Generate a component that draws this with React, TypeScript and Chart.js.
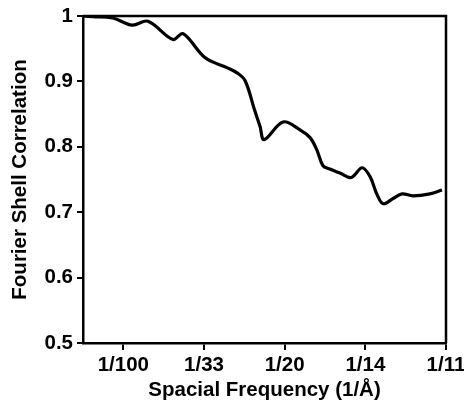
import React, { useEffect, useRef } from "react";
import { Chart, registerables } from "chart.js";

Chart.register(...registerables);

// Spatial frequency (1/Å) and Fourier shell correlation values
const frequencies = [
  0, 0.0025, 0.0074, 0.0122, 0.0161, 0.0223, 0.0248, 0.0303, 0.0357, 0.0382,
  0.0402, 0.0426, 0.0439, 0.0449, 0.0496, 0.0538, 0.0563, 0.058, 0.0595,
  0.0612, 0.0637, 0.0665, 0.0692, 0.0712, 0.0729, 0.0744, 0.0769, 0.0791,
  0.0818, 0.086, 0.089,
];
const fscValues = [
  1.0, 0.999, 0.997, 0.986, 0.992, 0.964, 0.973, 0.936, 0.921, 0.913, 0.901,
  0.855, 0.831, 0.811, 0.838, 0.826, 0.814, 0.795, 0.771, 0.766, 0.76, 0.753,
  0.768, 0.754, 0.727, 0.713, 0.721, 0.728, 0.725, 0.728, 0.734,
];
const xTickValues = [0.01, 0.03, 0.05, 0.07, 0.09];
const xTickLabels = ["1/100", "1/33", "1/20", "1/14", "1/11"];

const FONT = "'Liberation Sans', Arial, Helvetica, sans-serif";

const framePlugin = {
  id: "frame",
  afterDraw(chart: any) {
    const { ctx, chartArea } = chart;
    ctx.save();
    ctx.strokeStyle = "#000";
    ctx.lineWidth = 2.5;
    ctx.beginPath();
    ctx.moveTo(chartArea.left, chartArea.top);
    ctx.lineTo(chartArea.right, chartArea.top);
    ctx.lineTo(chartArea.right, chartArea.bottom);
    ctx.stroke();
    ctx.restore();
  },
};

export default function App() {
  const canvasRef = useRef<HTMLCanvasElement>(null);

  useEffect(() => {
    document.body.style.margin = "0";
    const canvas = canvasRef.current;
    if (!canvas) return;
    const chart = new Chart(canvas, {
      type: "line",
      data: {
        datasets: [
          {
            data: frequencies.map((f, i) => ({ x: f, y: fscValues[i] })),
            borderColor: "#000",
            borderWidth: 3.2,
            pointRadius: 0,
            tension: 0.35,
            fill: false,
          },
        ],
      },
      options: {
        animation: false,
        responsive: false,
        maintainAspectRatio: false,
        layout: { padding: { left: 0, right: 18, top: 16, bottom: 0 } },
        plugins: { legend: { display: false }, tooltip: { enabled: false } },
        scales: {
          x: {
            type: "linear",
            min: 0,
            max: 0.09,
            afterBuildTicks: (scale: any) => {
              scale.ticks = xTickValues.map((v) => ({ value: v }));
            },
            afterFit: (scale: any) => {
              scale.height = 60;
              scale.paddingRight = 0;
              scale.paddingLeft = 0;
            },
            ticks: {
              color: "#000",
              font: { family: FONT, size: 20.5, weight: "bold" },
              padding: 3,
              maxRotation: 0,
              autoSkip: false,
              callback: (v: any) => {
                const i = xTickValues.findIndex((t) => Math.abs(t - v) < 1e-6);
                return i >= 0 ? xTickLabels[i] : "";
              },
            },
            grid: {
              drawOnChartArea: false,
              drawTicks: true,
              tickLength: 7,
              color: "#000",
              lineWidth: 2,
            },
            border: { color: "#000", width: 2.5 },
            title: {
              display: true,
              text: "Spacial Frequency (1/Å)",
              color: "#000",
              font: { family: FONT, size: 20.5, weight: "bold" },
              padding: { top: 0, bottom: 0 },
            },
          },
          y: {
            min: 0.5,
            max: 1,
            afterFit: (scale: any) => {
              scale.width = 83;
              scale.paddingTop = 0;
              scale.paddingBottom = 0;
            },
            ticks: {
              stepSize: 0.1,
              color: "#000",
              font: { family: FONT, size: 20.5, weight: "bold" },
              padding: 4,
              callback: (v: any) => (Math.abs(v - 1) < 1e-6 ? "1" : Number(v).toFixed(1)),
            },
            grid: {
              drawOnChartArea: false,
              drawTicks: true,
              tickLength: 6,
              color: "#000",
              lineWidth: 2,
            },
            border: { color: "#000", width: 2.5 },
            title: {
              display: true,
              text: "Fourier Shell Correlation",
              color: "#000",
              font: { family: FONT, size: 20.5, weight: "bold" },
              padding: { top: 8, bottom: 0 },
            },
          },
        },
      },
      plugins: [framePlugin],
    });
    return () => chart.destroy();
  }, []);

  return (
    <div style={{ width: 464, height: 403, background: "#fff" }}>
      <canvas ref={canvasRef} width={464} height={403} style={{ display: "block" }} />
    </div>
  );
}
